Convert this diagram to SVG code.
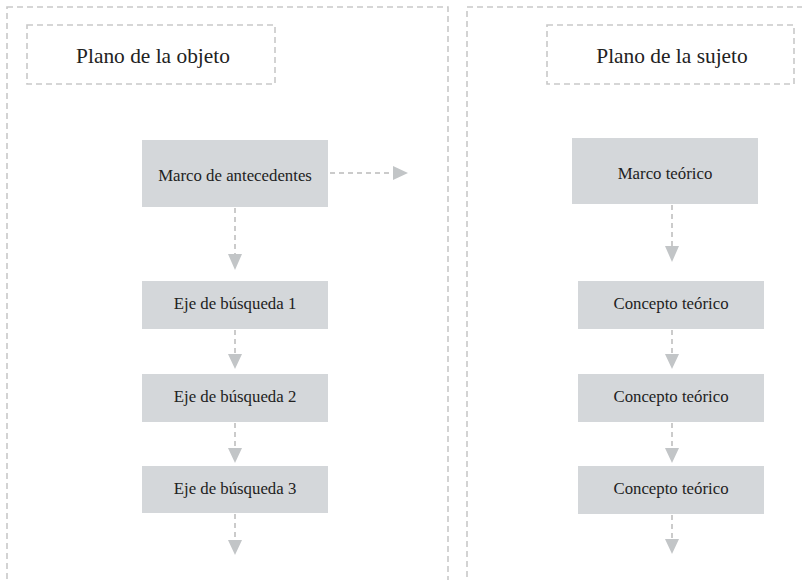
<svg xmlns="http://www.w3.org/2000/svg" width="802" height="580" viewBox="0 0 802 580">
<style>
.panel{fill:none;stroke:#c9c9c9;stroke-width:1.6;stroke-dasharray:6 4}
.box{fill:#d4d7da}
.lbl{font-family:"Liberation Serif",serif;font-size:16.8px;fill:#222;text-anchor:middle}
.ttl{font-family:"Liberation Serif",serif;font-size:21.4px;fill:#222;text-anchor:middle}
.con{stroke:#cbcbcb;stroke-width:2;stroke-dasharray:5 4;fill:none}
.head{fill:#c2c5c7}
</style>
<rect width="802" height="580" fill="#fff"/>
<g id="panel-objeto">
<rect class="panel" x="7" y="7" width="441" height="600"/>
<rect class="panel" x="27" y="25" width="248" height="59"/>
<text class="ttl" x="153" y="63">Plano de la objeto</text>
</g>
<g id="panel-sujeto">
<rect class="panel" x="467" y="7" width="360" height="600"/>
<rect class="panel" x="547" y="25" width="247" height="59"/>
<text class="ttl" x="672" y="63">Plano de la sujeto</text>
</g>
<g id="connectors">
<line class="con" x1="330" y1="173" x2="393" y2="173"/>
<polygon class="head" points="393,166 408,173 393,180"/>
<line class="con" x1="235" y1="208" x2="235" y2="254"/>
<polygon class="head" points="228,254 242,254 235,270"/>
<line class="con" x1="235" y1="330" x2="235" y2="354"/>
<polygon class="head" points="228,354 242,354 235,369"/>
<line class="con" x1="235" y1="423" x2="235" y2="448"/>
<polygon class="head" points="228,448 242,448 235,463"/>
<line class="con" x1="235" y1="514" x2="235" y2="540"/>
<polygon class="head" points="228,540 242,540 235,555"/>
<line class="con" x1="672" y1="205" x2="672" y2="246"/>
<polygon class="head" points="665,246 679,246 672,262"/>
<line class="con" x1="672" y1="330" x2="672" y2="354"/>
<polygon class="head" points="665,354 679,354 672,369"/>
<line class="con" x1="672" y1="423" x2="672" y2="448"/>
<polygon class="head" points="665,448 679,448 672,463"/>
<line class="con" x1="672" y1="515" x2="672" y2="539"/>
<polygon class="head" points="665,539 679,539 672,554"/>
</g>
<g id="marco-antecedentes"><rect class="box" x="142" y="140" width="186" height="67"/><text class="lbl" x="235" y="181">Marco de antecedentes</text></g>
<g id="eje1"><rect class="box" x="142" y="281" width="186" height="48"/><text class="lbl" x="235" y="309">Eje de búsqueda 1</text></g>
<g id="eje2"><rect class="box" x="142" y="374" width="186" height="48"/><text class="lbl" x="235" y="402">Eje de búsqueda 2</text></g>
<g id="eje3"><rect class="box" x="142" y="466" width="186" height="47"/><text class="lbl" x="235" y="494">Eje de búsqueda 3</text></g>
<g id="marco-teorico"><rect class="box" x="572" y="138" width="186" height="66"/><text class="lbl" x="665" y="179">Marco teórico</text></g>
<g id="concepto1"><rect class="box" x="578" y="281" width="186" height="48"/><text class="lbl" x="671" y="309">Concepto teórico</text></g>
<g id="concepto2"><rect class="box" x="578" y="374" width="186" height="48"/><text class="lbl" x="671" y="402">Concepto teórico</text></g>
<g id="concepto3"><rect class="box" x="578" y="466" width="186" height="48"/><text class="lbl" x="671" y="494">Concepto teórico</text></g>
</svg>
